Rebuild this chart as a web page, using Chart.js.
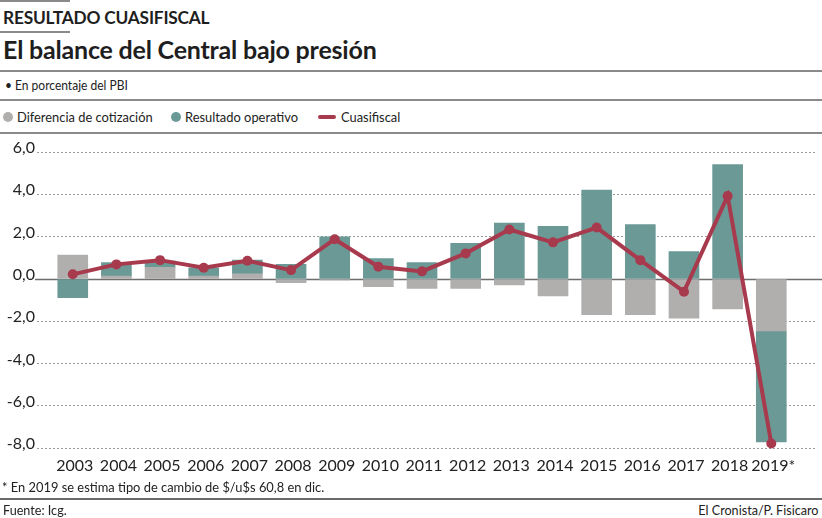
<!DOCTYPE html>
<html>
<head>
<meta charset="utf-8">
<script src="https://cdn.jsdelivr.net/npm/chart.js@4/dist/chart.umd.min.js"></script>
<style>
  html, body { margin:0; padding:0; background:#fff; }
  body { width:822px; height:518px; position:relative; overflow:hidden; font-family: Lato, "Open Sans", sans-serif; color:#222; }
  .abs { position:absolute; white-space:nowrap; }
  .rule { position:absolute; left:0; background:#8a8a8a; height:2px; }
  #kicker { left:3px; top:7px; font-weight:700; font-size:17.3px; color:#1e1e1e; letter-spacing:-0.2px; }
  #title { left:3px; top:34px; font-weight:700; font-size:25px; color:#1e1e1e; letter-spacing:-0.2px; }
  #sub { left:5px; top:77px; font-size:13.5px; color:#222; transform-origin:left center; transform:scaleX(0.89); }
  .leg { top:108px; font-size:14px; color:#222; transform-origin:left center; transform:scaleX(0.92); }
  .dot { position:absolute; width:10px; height:10px; border-radius:50%; top:112px; }
  #footnote { left:2px; top:478px; font-size:14px; color:#222; transform-origin:left center; transform:scaleX(0.92); }
  #src { left:3px; top:501px; font-size:14px; color:#222; transform-origin:left center; transform:scaleX(0.9); }
  #credit { right:4px; top:501px; font-size:14px; color:#222; transform-origin:right center; transform:scaleX(0.9); }
  #wrap { position:absolute; left:0; top:140px; width:822px; height:340px; }
</style>
</head>
<body>
<div class="rule" style="top:0;width:70px;"></div>
<div class="abs" id="kicker">RESULTADO CUASIFISCAL</div>
<div class="rule" style="top:31px;width:70px;"></div>
<div class="abs" id="title">El balance del Central bajo presión</div>
<div class="rule" style="top:70px;width:822px;"></div>
<div class="abs" id="sub">• En porcentaje del PBI</div>
<div class="rule" style="top:99px;width:822px;"></div>
<div class="dot" style="left:3px;background:#b1aeae;"></div>
<div class="abs leg" style="left:17px;">Diferencia de cotización</div>
<div class="dot" style="left:171px;background:#6b9996;"></div>
<div class="abs leg" style="left:185px;">Resultado operativo</div>
<div style="position:absolute;left:318px;top:115px;width:18px;height:4px;background:#a83a4e;border-radius:2px;"></div>
<div class="abs leg" style="left:341px;">Cuasifiscal</div>
<div class="rule" style="top:132px;width:822px;"></div>

<div id="wrap"><canvas id="c" width="822" height="340"></canvas></div>

<div class="abs" id="footnote">* En 2019 se estima tipo de cambio de $/u$s 60,8 en dic.</div>
<div class="rule" style="top:498px;width:822px;background:#6a6a6a;"></div>
<div class="abs" id="src">Fuente: Icg.</div>
<div class="abs" id="credit">El Cronista/P. Fisicaro</div>

<script>
const years = ["2003","2004","2005","2006","2007","2008","2009","2010","2011","2012","2013","2014","2015","2016","2017","2018","2019*"];
const diferenciaCotizacion = [1.13, 0.14, 0.55, 0.14, 0.24, -0.17, -0.05, -0.36, -0.44, -0.44, -0.28, -0.80, -1.69, -1.69, -1.85, -1.41, -2.45];
const resultadoOperativo   = [-0.88, 0.63, 0.30, 0.39, 0.65, 0.69, 1.99, 0.97, 0.77, 1.68, 2.64, 2.49, 4.20, 2.57, 1.29, 5.41, -5.25];
const cuasifiscal          = [0.22, 0.69, 0.89, 0.53, 0.86, 0.42, 1.88, 0.58, 0.36, 1.21, 2.34, 1.73, 2.43, 0.89, -0.60, 3.92, -7.77];
const yTicks = [6, 4, 2, 0, -2, -4, -6, -8];

const toPts = arr => arr.map((v, i) => ({ x: i, y: v }));

const zeroLine = {
  id: 'zeroLine',
  beforeDatasetsDraw(chart) {
    const y = Math.round(chart.scales.y.getPixelForValue(0)) + 0.5;
    const ctx = chart.ctx;
    ctx.save();
    ctx.strokeStyle = '#6e6e6e';
    ctx.lineWidth = 1.5;
    ctx.beginPath();
    ctx.moveTo(35, y);
    ctx.lineTo(chart.width, y);
    ctx.stroke();
    ctx.restore();
  }
};

new Chart(document.getElementById('c'), {
  data: {
    datasets: [
      { type: 'bar', label: 'Diferencia de cotización', data: toPts(diferenciaCotizacion),
        backgroundColor: '#b1aeae', barThickness: 30, order: 2 },
      { type: 'bar', label: 'Resultado operativo', data: toPts(resultadoOperativo),
        backgroundColor: '#6b9996', barThickness: 30, order: 2 },
      { type: 'line', label: 'Cuasifiscal', data: toPts(cuasifiscal), stack: 'line',
        borderColor: '#a83a4e', backgroundColor: '#a83a4e', borderWidth: 4,
        pointRadius: 5, pointHoverRadius: 5, pointBackgroundColor: '#a83a4e', pointBorderWidth: 0,
        tension: 0, clip: false, order: 1 }
    ]
  },
  options: {
    responsive: false,
    animation: false,
    layout: { padding: { top: 12, right: 0, left: 0, bottom: 0 } },
    plugins: { legend: { display: false }, tooltip: { enabled: false }, title: { display: false } },
    scales: {
      x: {
        type: 'linear', stacked: true, offset: false,
        min: -0.819, max: 17.047,
        grid: { display: false, drawTicks: false, offset: false },
        border: { display: false },
        afterBuildTicks: s => { s.ticks = years.map((_, i) => ({ value: i })); },
        afterFit: s => { s.height = 31.7; },
        ticks: {
          autoSkip: false, maxRotation: 0, padding: 8, labelOffset: 2,
          color: '#222', font: { family: 'Lato', size: 16 },
          callback: (v, i) => years[i]
        }
      },
      y: {
        stacked: true, min: -8, max: 6,
        afterBuildTicks: s => { s.ticks = yTicks.map(v => ({ value: v })); },
        afterFit: s => { s.width = 37; },
        grid: { drawTicks: false, color: c => (c.tick && c.tick.value === 0) ? 'rgba(0,0,0,0)' : '#9a9a9a', lineWidth: 1 },
        border: { display: false, dash: [2, 2] },
        ticks: {
          padding: 2, labelOffset: -4, color: '#222', font: { family: 'Lato', size: 16 },
          callback: v => v.toFixed(1).replace('.', ',')
        }
      }
    }
  },
  plugins: [zeroLine]
});
</script>
</body>
</html>
